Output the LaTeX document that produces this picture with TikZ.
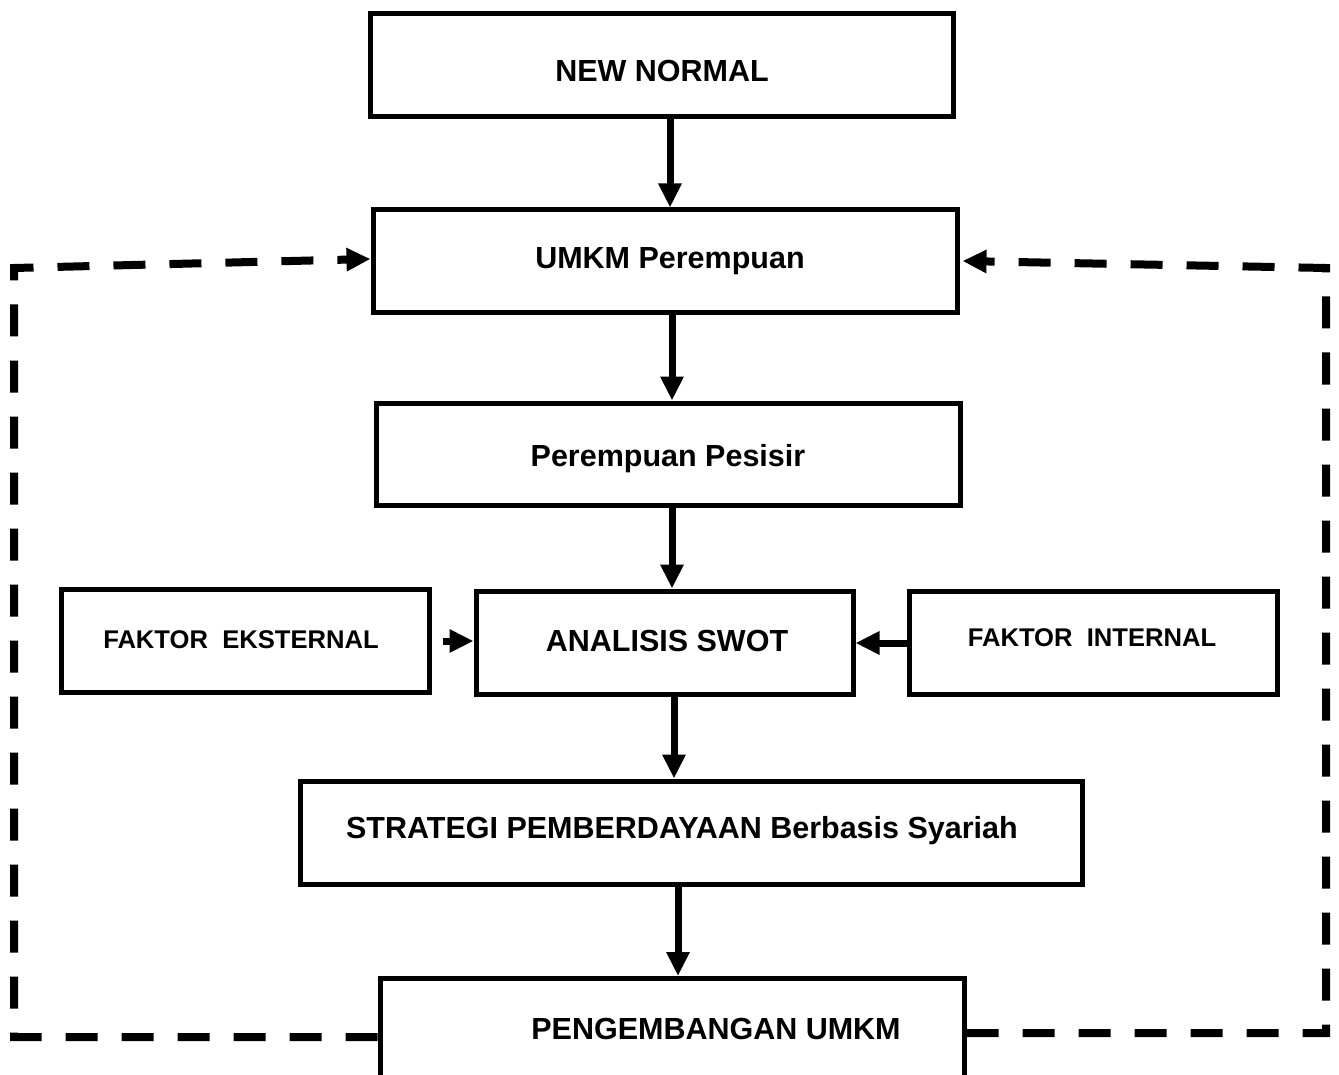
\documentclass[tikz,border=0pt]{standalone}
\usepackage{fontspec}
\setmainfont{Liberation Sans}
\usetikzlibrary{arrows.meta}
\begin{document}
\begin{tikzpicture}[x=1pt,y=-1pt,
  box/.style={draw,line width=5pt,inner sep=0pt},
  txt/.style={font=\bfseries\fontsize{30.5}{34}\selectfont,inner sep=0pt},
  stxt/.style={font=\bfseries\fontsize{25.6}{29}\selectfont,inner sep=0pt},
  arr/.style={line width=7pt,-{Triangle[width=22pt,length=24pt]}},
  darr/.style={line width=8pt,dash pattern=on 32pt off 24pt,-{Triangle[width=22pt,length=24pt]}}]
\useasboundingbox (0,0) rectangle (1339,1075);
\clip (0,0) rectangle (1339,1075);
% boxes
\node[box,minimum width=583pt,minimum height=103pt] (nn) at (661.5,65.5) {};
\node[txt] (nnt) at (662,71) {NEW NORMAL};
\node[box,minimum width=584pt,minimum height=103pt] (umkm) at (665,261.5) {};
\node[txt] (umkmt) at (670,261) {UMKM Perempuan};
\node[box,minimum width=584pt,minimum height=102pt] (pes) at (668,454) {};
\node[txt] (pest) at (668,459) {Perempuan Pesisir};
\node[box,minimum width=377pt,minimum height=103pt] (swot) at (664.5,642.5) {};
\node[txt] (swott) at (667,641) {ANALISIS SWOT};
\node[box,minimum width=368pt,minimum height=103pt] (eks) at (245,640.5) {};
\node[stxt] (ekst) at (241,640) {FAKTOR\ \ EKSTERNAL};
\node[box,minimum width=368pt,minimum height=103pt] (int) at (1093,642.5) {};
\node[stxt] (intt) at (1092,638) {FAKTOR\ \ INTERNAL};
\node[box,minimum width=782pt,minimum height=103pt] (str) at (691,832.5) {};
\node[txt] (strt) at (682,831) {STRATEGI PEMBERDAYAAN Berbasis Syariah};
\node[box,minimum width=584pt,minimum height=130pt,anchor=north] (peng) at (672,976) {};
\node[txt] (pengt) at (716,1029) {PENGEMBANGAN UMKM};
% arrows
\draw[arr] (nn.south -| 670,0) -- (umkm.north -| 670,0);
\draw[arr] (umkm.south -| 672,0) -- (pes.north -| 672,0);
\draw[arr] (pes.south -| 672,0) -- (swot.north -| 672,0);
\draw[arr] (swot.south -| 674,0) -- (str.north -| 674,0);
\draw[arr] (str.south -| 678,0) -- (peng.north -| 678,0);
\draw[arr] ([xshift=11pt]eks.east |- 0,641) -- (swot.west |- 0,641);
\draw[arr] (int.west |- 0,643) -- (swot.east |- 0,643);
% dashed feedback
\coordinate (lb) at (14,1037);
\coordinate (lt) at (14,268);
\coordinate (rb) at (1326,1033);
\coordinate (rt) at (1326,268);
\draw[darr] (peng.west |- 0,1037) -- (lb) -- (lt) -- (umkm.west |- 0,259);
\draw[darr] (peng.east |- 0,1033) -- (rb) -- (rt) -- ([xshift=3pt]umkm.east |- 0,261);
\end{tikzpicture}
\end{document}
